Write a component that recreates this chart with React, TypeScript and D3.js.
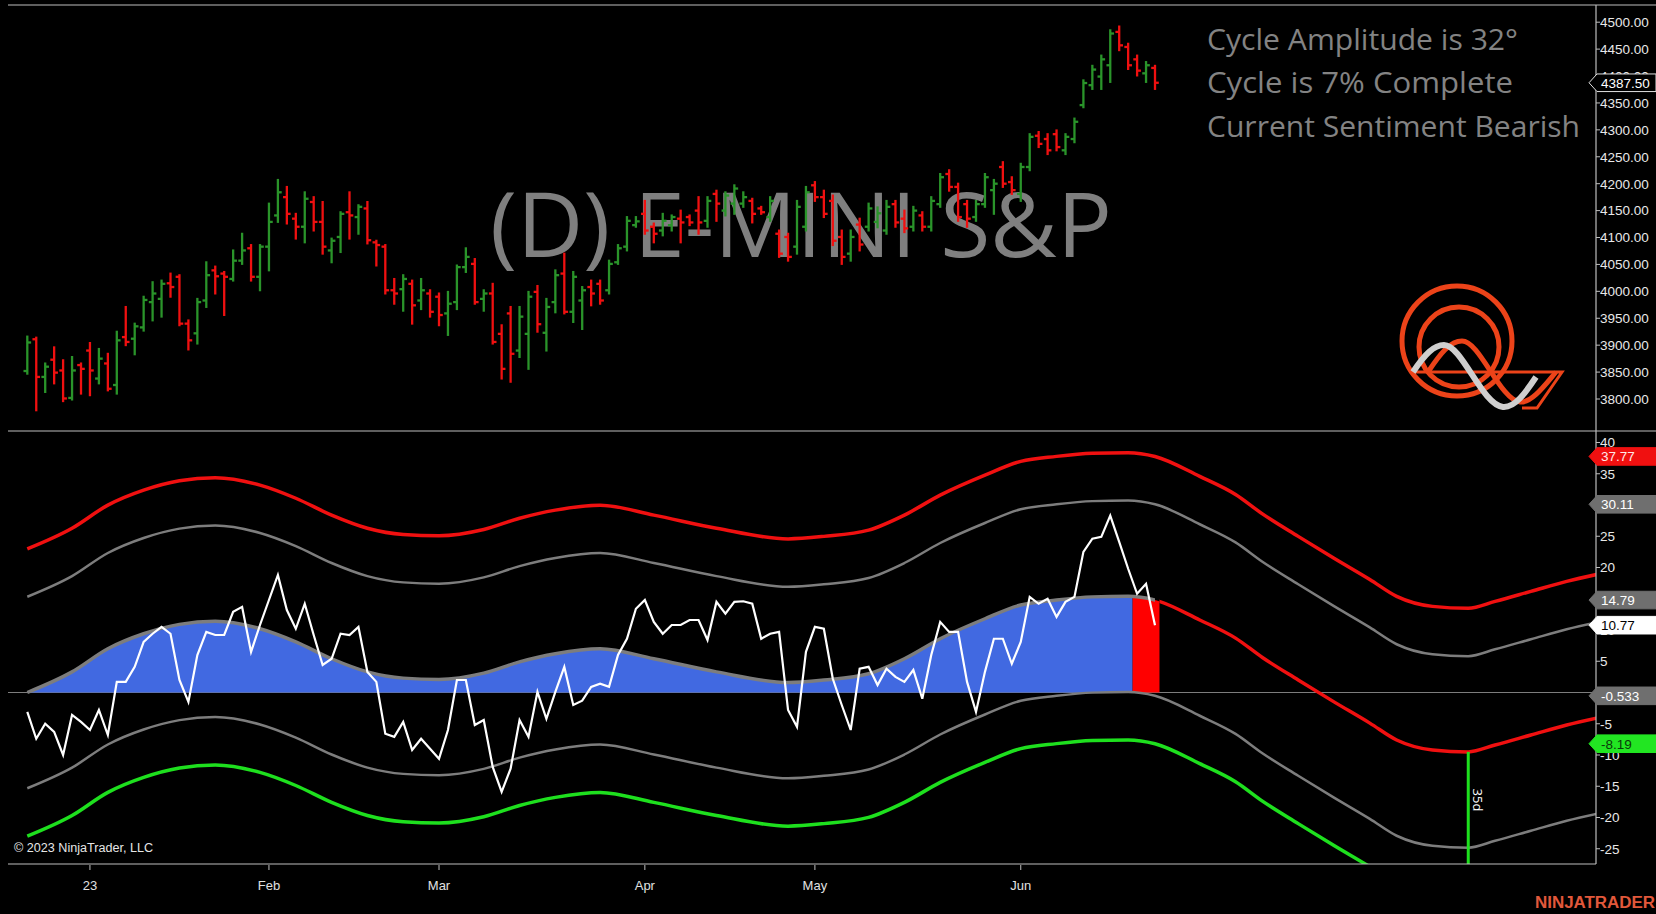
import * as d3 from 'd3'
import { useEffect, useRef } from 'react'

const WIDTH = 1656
const HEIGHT = 914

// daily OHLC bars, index 0 = Dec 21 2022 ... index 126 = last bar (Jun 2023)
const barOpen = [
  3852, 3911, 3841, 3873, 3853, 3802, 3863, 3890, 3838, 3866,
  3826, 3915, 3912, 3933, 3980, 3986, 4015, 4027, 3940, 3922,
  3983, 4039, 4033, 4023, 4057, 4080, 4027, 4083, 4141, 4175,
  4135, 4120, 4166, 4129, 4076, 4101, 4147, 4138, 4154, 4091,
  4083, 4002, 4004, 4014, 3983, 3996, 3990, 3959, 3980, 4045,
  4051, 3986, 3996, 3921, 3959, 3890, 3921, 3999, 3923, 3980,
  4033, 3962, 3983, 4008, 4014, 4002, 4054, 4083, 4123, 4144,
  4120, 4113, 4123, 4135, 4138, 4150, 4131, 4181, 4150, 4163,
  4163, 4168, 4154, 4138, 4107, 4101, 4083, 4120, 4197, 4175,
  4168, 4101, 4070, 4124, 4120, 4129, 4113, 4162, 4135, 4120,
  4141, 4120, 4162, 4218, 4194, 4162, 4138, 4162, 4188, 4231,
  4203, 4181, 4231, 4289, 4283, 4292, 4262, 4283, 4346, 4383,
  4399, 4420, 4482, 4454, 4431, 4405, 4415,
]
const barHigh = [
  3916, 3914, 3866, 3896, 3872, 3878, 3866, 3904, 3893, 3884,
  3925, 3971, 3940, 3990, 4017, 4020, 4033, 4030, 3946, 3986,
  4054, 4046, 4036, 4076, 4107, 4086, 4086, 4163, 4207, 4194,
  4144, 4184, 4175, 4166, 4098, 4147, 4184, 4160, 4166, 4094,
  4086, 4023, 4030, 4020, 4023, 4002, 3996, 3999, 4048, 4080,
  4060, 4002, 4014, 3937, 3971, 3971, 3999, 4010, 3986, 4039,
  4070, 4036, 4008, 4020, 4020, 4057, 4086, 4138, 4138, 4168,
  4126, 4144, 4141, 4150, 4141, 4175, 4175, 4187, 4184, 4197,
  4184, 4172, 4157, 4175, 4113, 4107, 4168, 4194, 4203, 4187,
  4178, 4113, 4113, 4135, 4163, 4156, 4168, 4168, 4150, 4157,
  4147, 4175, 4218, 4225, 4200, 4168, 4168, 4218, 4207, 4240,
  4212, 4237, 4292, 4296, 4292, 4299, 4292, 4321, 4392, 4419,
  4438, 4485, 4492, 4460, 4438, 4426, 4419,
]
const barLow = [
  3847, 3779, 3813, 3829, 3796, 3799, 3810, 3807, 3829, 3816,
  3810, 3900, 3883, 3927, 3946, 3953, 3990, 3937, 3892, 3903,
  3971, 3996, 3956, 4020, 4051, 4020, 4002, 4039, 4129, 4126,
  4098, 4091, 4113, 4070, 4054, 4073, 4098, 4107, 4089, 4048,
  3996, 3977, 3964, 3940, 3967, 3953, 3937, 3919, 3967, 4036,
  3977, 3964, 3903, 3838, 3832, 3878, 3856, 3925, 3890, 3961,
  3959, 3943, 3930, 3974, 3977, 3996, 4051, 4076, 4120, 4107,
  4091, 4104, 4113, 4091, 4123, 4107, 4120, 4131, 4141, 4144,
  4157, 4128, 4144, 4131, 4064, 4057, 4070, 4113, 4168, 4138,
  4086, 4051, 4057, 4076, 4113, 4119, 4107, 4120, 4110, 4113,
  4113, 4113, 4157, 4187, 4131, 4120, 4131, 4157, 4144, 4194,
  4181, 4168, 4225, 4268, 4255, 4262, 4255, 4277, 4342, 4376,
  4376, 4389, 4448, 4413, 4401, 4389, 4376,
]
const barClose = [
  3905, 3841, 3860, 3849, 3801, 3853, 3856, 3853, 3875, 3819,
  3909, 3906, 3935, 3984, 3996, 4014, 4008, 3940, 3909, 3980,
  4030, 4028, 4027, 4057, 4076, 4027, 4083, 4129, 4184, 4144,
  4120, 4172, 4129, 4083, 4094, 4144, 4141, 4157, 4095, 4086,
  4002, 3996, 4023, 3974, 4002, 3962, 3956, 3977, 4045, 4064,
  3980, 3996, 3906, 3856, 3884, 3953, 3990, 3939, 3971, 4030,
  3962, 4027, 4002, 3996, 3983, 4051, 4080, 4131, 4130, 4113,
  4107, 4131, 4138, 4128, 4128, 4128, 4168, 4163, 4178, 4191,
  4175, 4144, 4147, 4168, 4070, 4064, 4157, 4184, 4175, 4144,
  4094, 4064, 4101, 4087, 4154, 4145, 4157, 4128, 4117, 4150,
  4120, 4168, 4212, 4194, 4138, 4135, 4162, 4212, 4200, 4200,
  4188, 4231, 4287, 4274, 4262, 4268, 4287, 4315, 4387, 4412,
  4431, 4479, 4457, 4420, 4410, 4420, 4387.5,
]

// oscillator (white line), one value per bar
const oscValues = [
  -3.1, -7.4, -5.0, -6.3, -10.0, -3.6, -4.7, -6.0, -2.8, -6.8,
  1.7, 1.7, 4.1, 8.1, 9.4, 10.5, 9.4, 2.0, -1.5, 6.0,
  9.7, 9.2, 9.2, 12.9, 13.7, 6.5, 10.8, 14.8, 18.8, 13.2,
  10.2, 14.2, 9.2, 4.4, 5.4, 9.4, 9.2, 10.5, 3.3, 1.7,
  -6.6, -7.1, -4.7, -9.2, -7.4, -9.0, -10.6, -6.0, 2.0, 2.0,
  -5.2, -4.4, -11.9, -15.9, -12.2, -4.4, -7.1, 0.1, -4.2, 0.1,
  4.1, -2.0, -1.3, 0.9, 1.4, 0.9, 6.0, 8.6, 13.4, 14.8,
  11.3, 9.4, 10.8, 10.8, 11.6, 11.6, 8.4, 14.5, 12.6, 14.5,
  14.6, 14.2, 8.6, 9.4, 9.7, -2.8, -5.5, 6.5, 10.5, 10.2,
  2.2, -2.0, -6.0, 3.8, 4.1, 1.2, 3.8, 2.5, 1.7, 3.6,
  -1.0, 6.0, 11.3, 9.7, 9.7, 1.7, -3.1, 3.3, 8.6, 8.6,
  4.6, 8.1, 15.3, 14.2, 15.0, 12.1, 14.5, 15.3, 22.5, 24.6,
  24.9, 28.3, 24.1, 19.8, 15.8, 17.4, 10.77,
]

// dominant cycle, read at sample bars (continues past the last bar as projection)
const cycleIdx = [0, 5, 9, 13, 17, 21, 26, 30, 34, 38, 42, 46, 51, 55, 59, 64, 70, 77, 85, 89, 94, 98, 102, 107, 111, 115, 119, 123, 126, 131, 135, 138, 142, 146, 150, 153, 157, 161, 164, 168, 172, 176]
const cycleVal = [0.0, 3.3, 7.0, 9.4, 10.9, 11.4, 10.2, 8.1, 5.4, 3.3, 2.3, 2.1, 3.1, 4.9, 6.2, 7.0, 5.4, 3.3, 1.6, 2.0, 3.0, 5.4, 8.6, 11.8, 14.0, 14.8, 15.3, 15.4, 14.79, 11.6, 8.7, 5.6, 2.0, -1.5, -4.9, -7.6, -9.2, -9.5, -8.4, -6.8, -5.2, -3.9]

// band offsets around the cycle (from the right-hand markers)
const BAND_INNER = 15.32
const BAND_OUTER = 22.98

const LAST_BAR = 126
const RED_FROM = 123.5
const TROUGH_BAR = 161

const priceTicks = [3800, 3850, 3900, 3950, 4000, 4050, 4100, 4150, 4200, 4250, 4300, 4350, 4400, 4450, 4500]
const oscTicks = [40, 35, 30, 25, 20, 15, 10, 5, 0, -5, -10, -15, -20, -25]
const dateTickIdx = [7, 27, 46, 69, 88, 111]
const dateTickLabels = ['23', 'Feb', 'Mar', 'Apr', 'May', 'Jun']
const lastPrice = 4387.5
const oscMarkerValues = [37.77, 30.11, 14.79, 10.77, -0.533, -8.19]
const oscMarkerLabels = ['37.77', '30.11', '14.79', '10.77', '-0.533', '-8.19']
const infoLines = ['Cycle Amplitude is 32°', 'Cycle is 7% Complete', 'Current Sentiment Bearish']

export default function App() {
  const ref = useRef<SVGSVGElement>(null)

  useEffect(() => {
    const svg = d3.select(ref.current)
    svg.selectAll('*').remove()

    const left = 8
    const right = 1596
    const priceTop = 5
    const split = 431
    const bottom = 864

    const AXIS_FONT = "'Liberation Sans', Arial, sans-serif"
    const NARROW = "'Liberation Sans Narrow', 'Arial Narrow', 'Liberation Sans', Arial, sans-serif"
    const UI_FONT = "'Open Sans', 'Noto Sans', sans-serif"
    const GREEN_BAR = '#2a942a'
    const RED = '#f01010'
    const GRAY = '#7d7d7d'
    const BAND_GREEN = '#1ee01e'

    const x = d3.scaleLinear().domain([0, LAST_BAR]).range([27.3, 1155])
    const yP = d3.scaleLinear().domain([3800, 4500]).range([399, 22.2])
    const yO = d3.scaleLinear().domain([-25, 40]).range([848.75, 442.5])

    svg.append('rect').attr('width', WIDTH).attr('height', HEIGHT).attr('fill', '#000')

    const defs = svg.append('defs')
    const clip = (id: string, x0: number, y0: number, w: number, h: number) =>
      defs.append('clipPath').attr('id', id).append('rect')
        .attr('x', x0).attr('y', y0).attr('width', w).attr('height', h)
    clip('cPrice', left, priceTop + 1, right - left, split - priceTop - 1)
    clip('cOsc', left, split + 1, right - left, bottom - split - 1)
    clip('cBlue', x(0) - 1, split, x(RED_FROM) - x(0) + 1, bottom - split)
    clip('cRedFill', x(RED_FROM), split, x(LAST_BAR + 0.5) - x(RED_FROM), bottom - split)
    clip('cHist', left, split, x(LAST_BAR) - left, bottom - split)
    clip('cProj', x(LAST_BAR + 0.5), split, right - x(LAST_BAR + 0.5), bottom - split)
    clip('cLowBand', left, split, x(155) - left, bottom - split)

    // ---------- price panel ----------
    const pg = svg.append('g').attr('clip-path', 'url(#cPrice)')

    pg.append('text')
      .attr('x', 490).attr('y', 257)
      .attr('font-family', UI_FONT).attr('font-size', 90)
      .attr('fill', '#7f7f7f')
      .attr('textLength', 622).attr('lengthAdjust', 'spacingAndGlyphs')
      .text('(D) E-MINI S&P')

    infoLines.forEach((t, i) => {
      pg.append('text')
        .attr('x', 1207).attr('y', 49.5 + i * 43.7)
        .attr('font-family', UI_FONT).attr('font-size', 29)
        .attr('fill', '#838383')
        .attr('textLength', [311, 306, 373][i]).attr('lengthAdjust', 'spacingAndGlyphs')
        .text(t)
    })

    // logo
    const logo = pg.append('g').attr('fill', 'none')
    const ORANGE = '#ec4319'
    logo.append('circle').attr('cx', 1457).attr('cy', 341).attr('r', 55).attr('stroke', ORANGE).attr('stroke-width', 5)
    logo.append('circle').attr('cx', 1459).attr('cy', 347).attr('r', 40).attr('stroke', ORANGE).attr('stroke-width', 5)
    logo.append('path').attr('d', 'M1413,372 H1562 L1537,408 H1522').attr('stroke', ORANGE).attr('stroke-width', 3)
    logo.append('path')
      .attr('d', 'M1428,372 C1440,354 1450,341 1462,341 C1480,341 1500,400 1520,402 C1532,403 1545,385 1556,372')
      .attr('stroke', ORANGE).attr('stroke-width', 5)
    logo.append('path')
      .attr('d', 'M1413,372 C1425,354 1434,345 1444,345 C1462,345 1482,405 1503,407 C1515,408 1526,392 1536,377')
      .attr('stroke', '#cfcfcf').attr('stroke-width', 6)

    // OHLC bars
    const bars = pg.append('g')
    barOpen.forEach((o, i) => {
      const c = barClose[i]
      const col = c >= o ? GREEN_BAR : RED
      const cx = x(i)
      const b = bars.append('g').attr('stroke', col).attr('stroke-width', 2.3)
      b.append('line').attr('x1', cx).attr('x2', cx).attr('y1', yP(barHigh[i]) - 1).attr('y2', yP(barLow[i]) + 1)
      b.append('line').attr('x1', cx - 3.8).attr('x2', cx).attr('y1', yP(o)).attr('y2', yP(o))
      b.append('line').attr('x1', cx).attr('x2', cx + 3.8).attr('y1', yP(c)).attr('y2', yP(c))
    })

    // ---------- oscillator panel ----------
    const og = svg.append('g').attr('clip-path', 'url(#cOsc)')
    og.append('line').attr('x1', left).attr('x2', right).attr('y1', yO(0)).attr('y2', yO(0))
      .attr('stroke', GRAY).attr('stroke-width', 1.2)

    const pts = cycleIdx.map((i, k) => ({ i, v: cycleVal[k] }))
    const area = d3.area<{ i: number; v: number }>()
      .x(d => x(d.i)).y0(yO(0)).y1(d => yO(d.v)).curve(d3.curveMonotoneX)
    const band = (off: number) => d3.line<{ i: number; v: number }>()
      .x(d => x(d.i)).y(d => yO(d.v + off)).curve(d3.curveMonotoneX)(pts)

    og.append('path').attr('d', area(pts)).attr('fill', '#4169e1').attr('clip-path', 'url(#cBlue)')
    og.append('path').attr('d', area(pts)).attr('fill', '#ff0000').attr('clip-path', 'url(#cRedFill)')

    og.append('path').attr('d', band(BAND_OUTER)).attr('fill', 'none').attr('stroke', RED).attr('stroke-width', 3.5)
    og.append('path').attr('d', band(BAND_INNER)).attr('fill', 'none').attr('stroke', GRAY).attr('stroke-width', 2.5)
    og.append('path').attr('d', band(-BAND_INNER)).attr('fill', 'none').attr('stroke', GRAY).attr('stroke-width', 2.5)
    og.append('g').attr('clip-path', 'url(#cLowBand)')
      .append('path').attr('d', band(-BAND_OUTER)).attr('fill', 'none').attr('stroke', BAND_GREEN).attr('stroke-width', 3.5)
    og.append('path').attr('d', band(0)).attr('fill', 'none').attr('stroke', GRAY).attr('stroke-width', 3.5)
      .attr('clip-path', 'url(#cHist)')
    og.append('path').attr('d', band(0)).attr('fill', 'none').attr('stroke', RED).attr('stroke-width', 3.5)
      .attr('clip-path', 'url(#cProj)')

    const osc = d3.line<number>().x((_, i) => x(i)).y(d => yO(d))
    og.append('path').attr('d', osc(oscValues)).attr('fill', 'none').attr('stroke', '#ffffff').attr('stroke-width', 2.2)

    // cycle-length marker
    const troughV = cycleVal[cycleIdx.indexOf(TROUGH_BAR)]
    og.append('line').attr('x1', x(TROUGH_BAR)).attr('x2', x(TROUGH_BAR))
      .attr('y1', yO(troughV)).attr('y2', bottom).attr('stroke', BAND_GREEN).attr('stroke-width', 3)
    og.append('text')
      .attr('transform', `translate(${x(TROUGH_BAR) + 5},800) rotate(90)`)
      .attr('text-anchor', 'middle').attr('font-family', UI_FONT).attr('font-size', 13)
      .attr('fill', '#ffffff').text(`${TROUGH_BAR - LAST_BAR}d`)

    // copyright
    svg.append('text').attr('x', 14).attr('y', 852)
      .attr('font-family', NARROW).attr('font-size', 12).attr('fill', '#e6e6e6')
      .attr('textLength', 139).attr('lengthAdjust', 'spacingAndGlyphs')
      .text('© 2023 NinjaTrader, LLC')

    // ---------- frame ----------
    const frame = svg.append('g').attr('stroke', '#bdbdbd').attr('stroke-width', 1.2)
    frame.append('line').attr('x1', left).attr('x2', WIDTH).attr('y1', priceTop).attr('y2', priceTop)
    frame.append('line').attr('x1', left).attr('x2', WIDTH).attr('y1', split).attr('y2', split)
    frame.append('line').attr('x1', left).attr('x2', right).attr('y1', bottom).attr('y2', bottom)
    frame.append('line').attr('x1', right).attr('x2', right).attr('y1', priceTop).attr('y2', bottom)

    // ---------- right axes ----------
    const ax = svg.append('g').attr('font-family', AXIS_FONT).attr('font-size', 13.5).attr('fill', '#e8e8e8')
    const mkY = oscMarkerValues.map(v => yO(v))
    const hidden = (yy: number, list: number[]) => list.some(m => Math.abs(m - yy) < 4)
    priceTicks.forEach(p => {
      ax.append('line').attr('x1', right).attr('x2', right + 4).attr('y1', yP(p)).attr('y2', yP(p)).attr('stroke', '#bdbdbd')
      ax.append('text').attr('x', right + 4).attr('y', yP(p)).attr('dy', '0.36em').text(d3.format('.2f')(p))
    })
    oscTicks.forEach(v => {
      ax.append('line').attr('x1', right).attr('x2', right + 4).attr('y1', yO(v)).attr('y2', yO(v)).attr('stroke', '#bdbdbd')
      // labels sitting fully under a value marker are not visible in the chart
      if (!hidden(yO(v), mkY)) {
        ax.append('text').attr('x', right + 4).attr('y', yO(v)).attr('dy', '0.36em').text(String(v))
      }
    })

    const marker = (yc: number, fill: string, stroke: string, textFill: string, label: string) => {
      const h = 8.8
      ax.append('path')
        .attr('d', `M${right - 7},${yc} L${right + 1},${yc - h} H${WIDTH} V${yc + h} H${right + 1} Z`)
        .attr('fill', fill).attr('stroke', stroke).attr('stroke-width', 1)
      ax.append('text').attr('x', right + 5).attr('y', yc).attr('dy', '0.36em').attr('fill', textFill).text(label)
    }
    marker(yP(lastPrice), '#000000', '#e0e0e0', '#ffffff', d3.format('.2f')(lastPrice))
    const mFill = [RED, '#6f6f6f', '#6f6f6f', '#ffffff', '#6f6f6f', '#22e622']
    const mText = ['#ffe8e8', '#ffffff', '#ffffff', '#000000', '#ffffff', '#0a3a0a']
    oscMarkerValues.forEach((v, k) => marker(yO(v), mFill[k], mFill[k], mText[k], oscMarkerLabels[k]))

    // ---------- date axis ----------
    const dx = svg.append('g').attr('font-family', NARROW).attr('font-size', 13).attr('fill', '#e0e0e0')
    dateTickIdx.forEach((i, k) => {
      dx.append('line').attr('x1', x(i)).attr('x2', x(i)).attr('y1', bottom + 1).attr('y2', bottom + 6).attr('stroke', '#bdbdbd')
      dx.append('text').attr('x', x(i)).attr('y', 890).attr('text-anchor', 'middle').text(dateTickLabels[k])
    })

    svg.append('text').attr('x', 1535).attr('y', 908)
      .attr('font-family', NARROW).attr('font-weight', 'bold').attr('font-size', 16)
      .attr('fill', '#e2583b').attr('textLength', 120).attr('lengthAdjust', 'spacingAndGlyphs')
      .text('NINJATRADER')
  }, [])

  return (
    <div style={{ position: 'fixed', left: 0, top: 0, width: WIDTH, height: HEIGHT, background: '#000', overflow: 'hidden' }}>
      <svg ref={ref} width={WIDTH} height={HEIGHT} style={{ display: 'block' }} />
    </div>
  )
}
